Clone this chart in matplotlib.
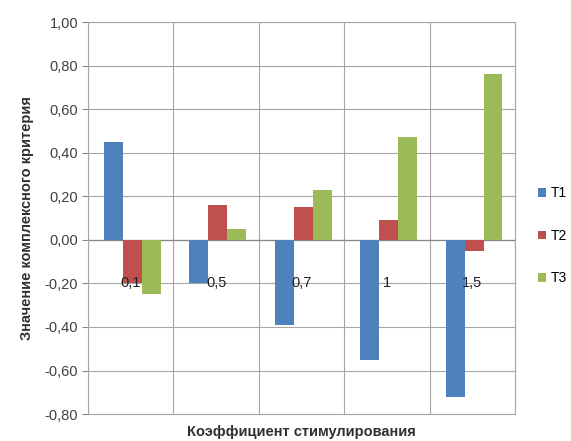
import matplotlib
matplotlib.use("Agg")
import matplotlib.pyplot as plt
import numpy as np

categories = ["0,1", "0,5", "0,7", "1", "1,5"]
series_names = ["T1", "T2", "T3"]
t1 = [0.45, -0.20, -0.39, -0.55, -0.72]
t2 = [-0.20, 0.16, 0.15, 0.09, -0.05]
t3 = [-0.25, 0.05, 0.23, 0.47, 0.76]
yticks = [1.0, 0.8, 0.6, 0.4, 0.2, 0.0, -0.2, -0.4, -0.6, -0.8]
ytick_labels = ["1,00", "0,80", "0,60", "0,40", "0,20", "0,00", "-0,20", "-0,40", "-0,60", "-0,80"]
xlabel = "Коэффициент стимулирования"
ylabel = "Значение комплексного критерия"

colors = ["#4F81BD", "#C0504D", "#9BBB59"]
font = ["Liberation Sans Narrow", "Liberation Sans", "DejaVu Sans"]
plt.rcParams["font.family"] = font

fig = plt.figure(figsize=(5.71, 4.41), dpi=100)
ax = fig.add_axes([0.154, 0.061, 0.748, 0.889])

n = len(categories)
x = np.arange(n)
w = 0.222
for i, (vals, name) in enumerate(zip([t1, t2, t3], series_names)):
    ax.bar(x + (i - 1) * w + 0.02, vals, width=w, color=colors[i], label=name, zorder=3)

ax.set_xlim(-0.5, n - 0.5)
ax.set_ylim(-0.8, 1.0)
ax.set_yticks(yticks)
ax.set_yticklabels(ytick_labels, fontsize=10.5, color="#404040")
ax.set_xticks(np.arange(n + 1) - 0.5, minor=False)
ax.set_xticklabels([])
ax.tick_params(axis="x", length=0)
ax.tick_params(axis="y", length=4, color="#888888", pad=3)
ax.grid(True, axis="both", color="#A6A6A6", linewidth=0.8, zorder=0)
for s in ax.spines.values():
    s.set_color("#A6A6A6")
    s.set_linewidth(0.8)
ax.axhline(0, color="#888888", linewidth=0.9, zorder=2)

for xi, lab in zip(x, categories):
    ax.text(xi, -0.2, lab, ha="center", va="center", fontsize=10.5, color="#202020", zorder=4)

ax.set_xlabel(xlabel, fontsize=10.5, fontweight="bold", color="#303030", labelpad=4)
ax.set_ylabel(ylabel, fontsize=10.5, fontweight="bold", color="#303030", labelpad=8)

handles, labels = ax.get_legend_handles_labels()
fig.legend(handles, labels, loc="center left", bbox_to_anchor=(0.942, 0.465),
           frameon=False, fontsize=10, handlelength=0.6, handleheight=0.6,
           handletextpad=0.35, labelspacing=2.05, borderpad=0, borderaxespad=0)

fig.savefig("out.png", dpi=100)
